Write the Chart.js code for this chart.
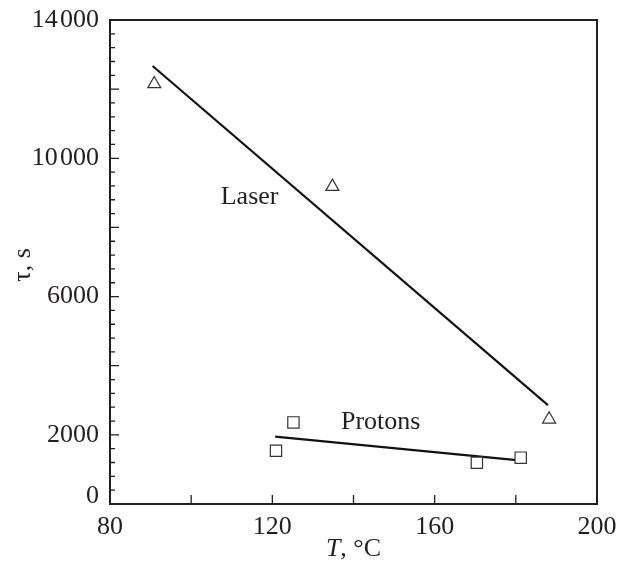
<!DOCTYPE html>
<html>
<head>
<meta charset="utf-8">
<script src="https://cdn.jsdelivr.net/npm/chart.js@4"></script>
<style>
  body { margin: 0; background: #fff; }
  canvas { display: block; }
</style>
</head>
<body>
<canvas id="myChart" width="618" height="568"></canvas>
<script>
// values
const laserT = [90.9, 134.8, 188.2]
const laserTau = [12150, 9180, 2450]
const laserFitT = [90.5, 187.9]
const laserFitTau = [12670, 2860]

const protonT = [120.9, 125.2, 170.4, 181.2]
const protonTau = [1540, 2360, 1195, 1340]
const protonFitT = [120.7, 180.2]
const protonFitTau = [1950, 1270]

const xTickLabels = [80, 120, 160, 200]
const yTickLabels = [0, 2000, 6000, 10000, 14000]

const ink = '#231f20'
const serif = '"Liberation Serif", "Times New Roman", serif'

const toPts = (xs, ys) => xs.map((x, i) => ({ x: x, y: ys[i] }))

const fmt = v => v >= 10000 ? String(v).slice(0, 2) + '\u200A' + String(v).slice(2) : String(v)

const frame = {
    id: 'frame',
    afterDraw(chart) {
        const c = chart.ctx
        const a = chart.chartArea
        const xs = chart.scales.x
        const ys = chart.scales.y
        c.save()
        c.strokeStyle = ink
        c.lineWidth = 2
        c.strokeRect(a.left, a.top, a.right - a.left, a.bottom - a.top)

        // inward ticks
        c.lineWidth = 1.3
        c.beginPath()
        for (let v = 100; v < 200; v += 20) {
            const px = xs.getPixelForValue(v)
            c.moveTo(px, a.bottom)
            c.lineTo(px, a.bottom - 9)
        }
        for (let v = 400; v < 14000; v += 400) {
            const py = ys.getPixelForValue(v)
            const len = v % 2000 == 0 ? 9 : 5
            c.moveTo(a.left, py)
            c.lineTo(a.left + len, py)
        }
        c.stroke()

        c.fillStyle = ink
        c.font = '26px ' + serif
        c.textBaseline = 'middle'

        // the zero label sits a little above the corner
        c.textAlign = 'right'
        c.fillText(fmt(yTickLabels[0]), a.left - 11, ys.getPixelForValue(0) - 8)

        // labels
        c.textAlign = 'center'
        c.fillText('Laser', xs.getPixelForValue(114.4), ys.getPixelForValue(8880))
        c.fillText('Protons', xs.getPixelForValue(146.7), ys.getPixelForValue(2380))

        // x title with italic T
        const ty = 549
        c.font = 'italic 26px ' + serif
        const wT = c.measureText('T').width
        c.font = '26px ' + serif
        const wRest = c.measureText(', \u00B0C').width
        let tx = (a.left + a.right) / 2 - (wT + wRest) / 2
        c.textAlign = 'left'
        c.font = 'italic 26px ' + serif
        c.fillText('T', tx, ty)
        c.font = '26px ' + serif
        c.fillText(', \u00B0C', tx + wT, ty)

        // y title
        c.translate(23, 265)
        c.rotate(-Math.PI / 2)
        c.textAlign = 'center'
        c.fillText('\u03C4, s', 0, 0)
        c.restore()
    }
}

const ctx = document.getElementById('myChart')

const config = {
    type: 'scatter',
    data: {
        datasets: [
            {
                label: 'Laser',
                data: toPts(laserT, laserTau),
                pointStyle: 'triangle',
                pointRadius: 7.5,
                backgroundColor: '#fff',
                borderColor: '#333',
                borderWidth: 1.2
            },
            {
                label: 'Protons',
                data: toPts(protonT, protonTau),
                pointStyle: 'rect',
                pointRadius: 8,
                backgroundColor: '#fff',
                borderColor: '#333',
                borderWidth: 1.2
            },
            {
                type: 'line',
                label: 'Laser fit',
                data: toPts(laserFitT, laserFitTau),
                borderColor: '#111',
                borderWidth: 2.2,
                pointRadius: 0,
                fill: false
            },
            {
                type: 'line',
                label: 'Protons fit',
                data: toPts(protonFitT, protonFitTau),
                borderColor: '#111',
                borderWidth: 2.2,
                pointRadius: 0,
                fill: false
            }
        ]
    },
    options: {
        responsive: false,
        animation: false,
        layout: { padding: { top: 20, right: 21, left: 0, bottom: 0 } },
        plugins: {
            legend: { display: false },
            tooltip: { enabled: false }
        },
        scales: {
            x: {
                type: 'linear',
                min: 80,
                max: 200,
                afterFit: s => { s.height = 64; s.paddingLeft = 0; s.paddingRight = 0 },
                grid: { display: false, drawTicks: false },
                border: { display: false },
                ticks: {
                    stepSize: 20,
                    padding: 8,
                    color: ink,
                    font: { family: serif, size: 26 },
                    maxRotation: 0,
                    autoSkip: false,
                    callback: v => xTickLabels.includes(v) ? String(v) : ''
                }
            },
            y: {
                type: 'linear',
                min: 0,
                max: 14000,
                afterFit: s => { s.width = 110; s.paddingTop = 0; s.paddingBottom = 0 },
                grid: { display: false, drawTicks: false },
                border: { display: false },
                ticks: {
                    stepSize: 2000,
                    padding: 11,
                    color: ink,
                    font: { family: serif, size: 26 },
                    autoSkip: false,
                    // zero is drawn by the frame plugin
                    callback: v => v != 0 && yTickLabels.includes(v) ? fmt(v) : ''
                }
            }
        }
    },
    plugins: [frame]
}

const chart = new Chart(ctx, config)
</script>
</body>
</html>
